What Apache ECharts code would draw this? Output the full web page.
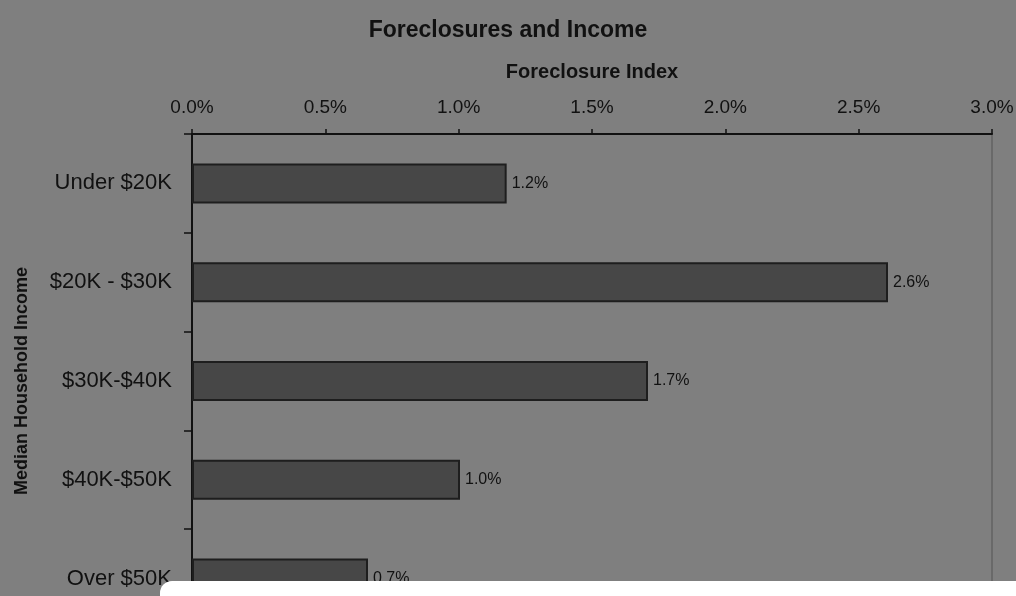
<!DOCTYPE html>
<html>
<head>
<meta charset="utf-8">
<script src="https://cdn.jsdelivr.net/npm/echarts@6/dist/echarts.min.js"></script>
<style>
html,body{margin:0;padding:0;background:#7f7f7f;}
#c{width:1016px;height:596px;}
</style>
</head>
<body>
<div id="c"></div>
<script>
var categories = ['Under $20K', '$20K - $30K', '$30K-$40K', '$40K-$50K', 'Over $50K'];
var foreclosureIndex = [1.18, 2.61, 1.71, 1.005, 0.66];
var xTicks = [0, 0.5, 1.0, 1.5, 2.0, 2.5, 3.0];

var FONT = '"Liberation Sans", Arial, sans-serif';
var chart = echarts.init(document.getElementById('c'));
chart.setOption({
  backgroundColor: '#7f7f7f',
  animation: false,
  title: {
    text: 'Foreclosures and Income',
    left: 'center',
    top: 14,
    textStyle: {fontFamily: FONT, fontSize: 23, fontWeight: 'bold', color: '#111'}
  },
  grid: {
    left: 192, right: 24, top: 134, height: 494,
    outerBoundsMode: 'none',
    containLabel: false,
    show: true, borderColor: '#555', borderWidth: 1, backgroundColor: 'transparent'
  },
  xAxis: {
    type: 'value',
    position: 'top',
    min: xTicks[0], max: xTicks[xTicks.length - 1], interval: 0.5,
    name: 'Foreclosure Index',
    nameLocation: 'middle',
    nameGap: 52,
    nameTextStyle: {fontFamily: FONT, fontSize: 20, fontWeight: 'bold', color: '#111'},
    axisLine: {show: true, lineStyle: {color: '#111', width: 2}},
    axisTick: {show: true, length: 5, lineStyle: {color: '#111', width: 1.5}},
    splitLine: {show: false},
    axisLabel: {
      fontFamily: FONT, fontSize: 19, color: '#111', margin: 17,
      formatter: function (v) { return v.toFixed(1) + '%'; }
    }
  },
  yAxis: {
    type: 'category',
    inverse: true,
    data: categories,
    name: 'Median Household Income',
    nameLocation: 'middle',
    nameGap: 161,
    nameRotate: 90,
    nameTextStyle: {fontFamily: FONT, fontSize: 18, fontWeight: 'bold', color: '#111'},
    axisLine: {show: true, lineStyle: {color: '#111', width: 2}},
    axisTick: {show: true, length: 8, lineStyle: {color: '#111', width: 1.5}},
    axisLabel: {fontFamily: FONT, fontSize: 22, color: '#111', margin: 20}
  },
  series: [{
    type: 'bar',
    data: foreclosureIndex,
    barWidth: 40,
    itemStyle: {color: '#474747', borderColor: '#1e1e1e', borderWidth: 2},
    label: {
      show: true, position: 'right', distance: 5,
      fontFamily: FONT, fontSize: 16, color: '#111',
      formatter: function (p) { return p.value.toFixed(1) + '%'; }
    }
  }],
  graphic: [{
    type: 'rect',
    z: 100,
    shape: {x: 160, y: 581, width: 900, height: 40, r: 12},
    style: {fill: '#ffffff'}
  }]
});
</script>
</body>
</html>
